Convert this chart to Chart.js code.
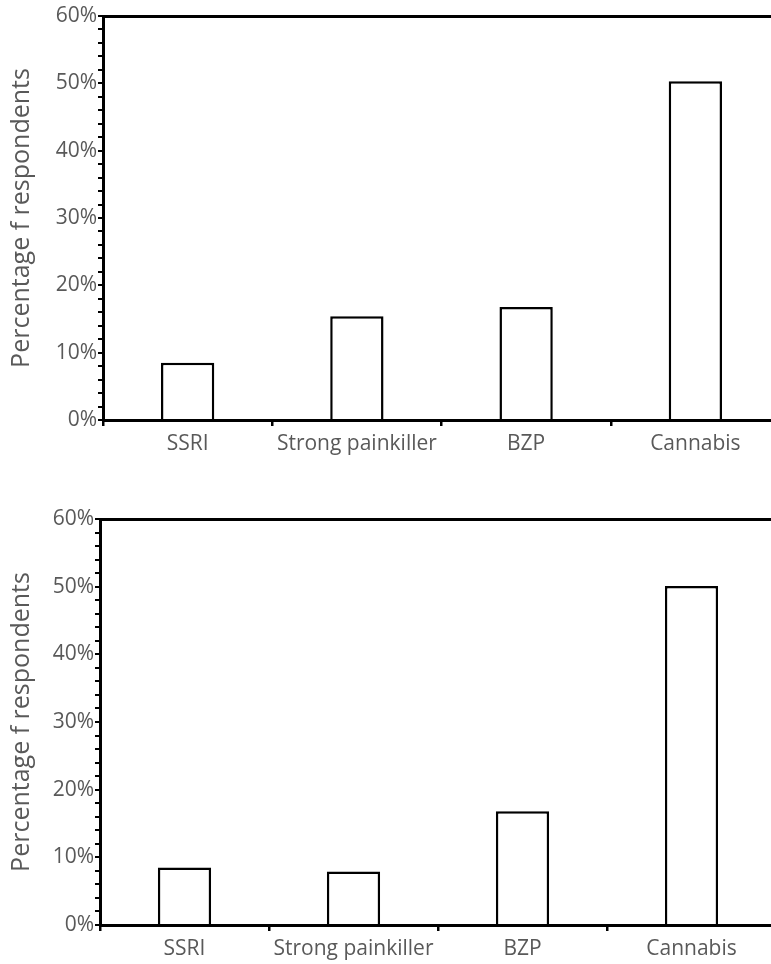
<!DOCTYPE html>
<html>
<head>
<meta charset="utf-8">
<script src="https://cdn.jsdelivr.net/npm/chart.js@4.4.1/dist/chart.umd.min.js"></script>
<style>
  html, body { margin: 0; padding: 0; background: #fff; width: 771px; height: 964px; overflow: hidden; }
  .wrap { position: absolute; left: 0; }
  #w1 { top: 0; width: 780px; height: 470px; }
  #w2 { top: 490px; width: 776px; height: 474px; }
</style>
</head>
<body>
<div class="wrap" id="w1"><canvas id="c1" width="780" height="470"></canvas></div>
<div class="wrap" id="w2"><canvas id="c2" width="776" height="474"></canvas></div>
<script>
const categories = ['SSRI', 'Strong painkiller', 'BZP', 'Cannabis'];
const valuesTop = [8.5, 15.4, 16.8, 50.3];
const valuesBottom = [8.5, 7.9, 16.8, 50.1];
const yMin = 0, yMax = 60, yStep = 2, yLabelStep = 10;
const yTitle = 'Percentage f respondents';

const FONT = "'Open Sans', sans-serif";
const GREY = '#595959';

function makeChart(id, values, cfg) {
  return new Chart(document.getElementById(id), {
    type: 'bar',
    data: {
      labels: categories,
      datasets: [{
        data: values,
        backgroundColor: '#ffffff',
        borderColor: '#000000',
        borderWidth: 2.5,
        borderSkipped: 'bottom',
        categoryPercentage: 1,
        barPercentage: 0.315
      }]
    },
    options: {
      responsive: false,
      animation: false,
      devicePixelRatio: 1,
      layout: { padding: { top: cfg.padTop, left: 0, right: 0, bottom: 0 } },
      plugins: { legend: { display: false }, tooltip: { enabled: false } },
      scales: {
        x: {
          type: 'category',
          position: 'bottom',
          offset: true,
          grid: { display: true, offset: true, drawOnChartArea: false, drawTicks: true, tickLength: 6, color: '#000', lineWidth: 2.5 },
          border: { display: true, color: '#000', width: 3 },
          ticks: { color: GREY, font: { family: FONT, size: 21 }, padding: 5, maxRotation: 0, autoSkip: false },
          afterFit: s => { s.height = cfg.xHeight; }
        },
        xTop: {
          type: 'category',
          position: 'top',
          offset: true,
          grid: { display: false },
          border: { display: true, color: '#000', width: 3 },
          ticks: { display: false },
          afterFit: s => { s.height = 0; }
        },
        y: {
          min: yMin, max: yMax,
          grid: { display: true, drawOnChartArea: false, drawTicks: true, tickLength: 5, color: '#000', lineWidth: 2 },
          border: { display: true, color: '#000', width: 3 },
          ticks: {
            stepSize: yStep,
            autoSkip: false,
            color: GREY,
            font: { family: FONT, size: 21 },
            padding: 1,
            callback: v => (v % yLabelStep === 0 ? v + '%' : '')
          },
          title: { display: true, text: yTitle, color: GREY, font: { family: FONT, size: 25 }, padding: { top: 7, bottom: 0 } },
          afterFit: s => { s.width = cfg.yWidth; }
        }
      }
    }
  });
}

makeChart('c1', valuesTop, { padTop: 16, xHeight: 50, yWidth: 103 });
makeChart('c2', valuesBottom, { padTop: 29, xHeight: 39, yWidth: 100 });
</script>
</body>
</html>
